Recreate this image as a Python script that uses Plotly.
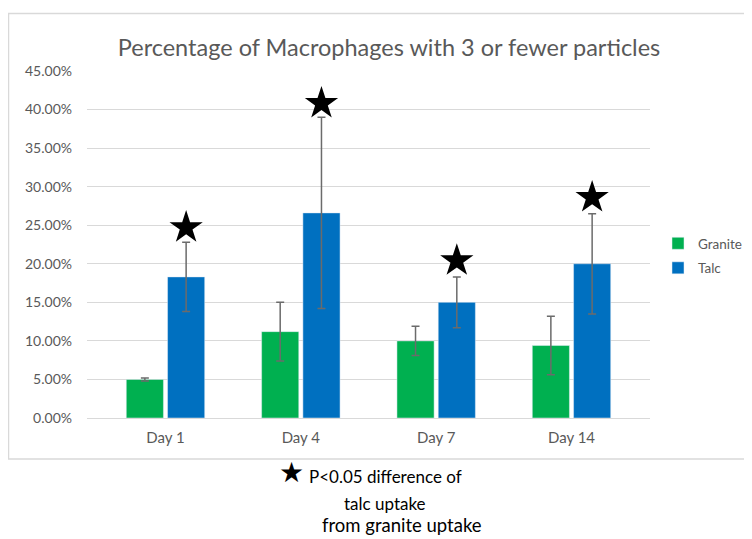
import plotly.graph_objects as go

days = ["Day 1", "Day 4", "Day 7", "Day 14"]
granite = [5.0, 11.2, 10.0, 9.4]
granite_err = [0.2, 3.8, 1.9, 3.8]
talc = [18.3, 26.6, 15.0, 20.0]
talc_err = [4.5, 12.4, 3.3, 6.5]
star_y = [24.7, 40.8, 20.4, 28.6]  # significance markers above talc bars
y_ticks = [0, 5, 10, 15, 20, 25, 30, 35, 40, 45]
y_tick_labels = [f"{v:.2f}%" for v in y_ticks]

# the page body adds an 8px margin; the figure is sized to fill the rest
OFF = 8
W, H = 752 - OFF, 539 - OFF
L, R, T, B = 87 - OFF, 650 - OFF, 71 - OFF, 418 - OFF  # plot area in figure pixels

def px_x(x):
    return (x - OFF - L) / (R - L)

def px_y(y):
    return (B - (y - OFF)) / (B - T)

FONT = "Lato"
GRAY = "#595959"
ERR = "#6b6b6b"

fig = go.Figure()
fig.add_trace(go.Bar(
    name="Granite", x=days, y=granite, marker_color="#00B050",
    offsetgroup="granite", legendgroup="g",
    error_y=dict(type="data", array=granite_err, color=ERR, thickness=1.5, width=4),
))
fig.add_trace(go.Bar(
    name="Talc", x=days, y=talc, marker_color="#0070C0",
    offsetgroup="talc", legendgroup="t",
    error_y=dict(type="data", array=talc_err, color=ERR, thickness=1.5, width=4),
))
fig.add_trace(go.Scatter(
    x=days, y=[None] * len(days), mode="markers", offsetgroup="granite",
    showlegend=False, hoverinfo="skip",
))
fig.add_trace(go.Scatter(
    x=days, y=star_y, mode="markers", offsetgroup="talc", showlegend=False,
    marker=dict(symbol="star", size=25, color="black", line=dict(width=0)),
))

fig.update_layout(
    width=W, height=H,
    margin=dict(l=L, r=W - R, t=T, b=H - B, autoexpand=False),
    paper_bgcolor="white", plot_bgcolor="white",
    barmode="group", bargap=0.39, bargroupgap=0.1,
    scattermode="group", scattergap=0.39,
    font=dict(family=FONT, color=GRAY),
    title=dict(text="Percentage of Macrophages with 3 or fewer particles",
               x=(389 - OFF) / W, xanchor="center", y=1 - (48 - OFF) / H, yanchor="middle",
               font=dict(family=FONT, size=23.5, color=GRAY)),
    legend=dict(x=px_x(658), xanchor="left", y=px_y(256), yanchor="middle",
                font=dict(size=13.5, color=GRAY), bgcolor="rgba(0,0,0,0)",
                tracegroupgap=4, traceorder="grouped", itemwidth=30),
    showlegend=True,
)
fig.update_xaxes(range=[-0.58, 3.58], showgrid=False, showline=False,
                 zeroline=False, ticks="", ticklabelstandoff=9,
                 tickfont=dict(size=15, color=GRAY))
fig.update_yaxes(range=[0, 45], tickvals=y_ticks, ticktext=y_tick_labels,
                 showgrid=True, gridcolor="#d9d9d9", gridwidth=1,
                 zeroline=True, zerolinecolor="#d9d9d9", zerolinewidth=1,
                 showline=False, ticks="", ticklabelstandoff=14,
                 tickfont=dict(size=14, color=GRAY))

# outer chart frame
fig.add_shape(type="rect", xref="paper", yref="paper",
              x0=px_x(8.5), x1=px_x(775), y0=px_y(459), y1=px_y(13.5),
              line=dict(color="#d9d9d9", width=1.5), layer="below")

# footnote
fig.add_annotation(xref="paper", yref="paper", x=px_x(291), y=px_y(473),
                   text="★", showarrow=False, font=dict(family="DejaVu Sans", size=28, color="black"),
                   xanchor="center", yanchor="middle")
fig.add_annotation(xref="paper", yref="paper", x=px_x(307), y=px_y(476),
                   text="P<0.05 difference of", showarrow=False, xanchor="left", yanchor="middle",
                   font=dict(family=FONT, size=17, color="black"))
fig.add_annotation(xref="paper", yref="paper", x=px_x(385), y=px_y(503),
                   text="talc uptake", showarrow=False, xanchor="center", yanchor="middle",
                   font=dict(family=FONT, size=17, color="black"))
fig.add_annotation(xref="paper", yref="paper", x=px_x(402), y=px_y(525),
                   text="from granite uptake", showarrow=False, xanchor="center", yanchor="middle",
                   font=dict(family=FONT, size=18.5, color="black"))

fig.write_html("out.html")
